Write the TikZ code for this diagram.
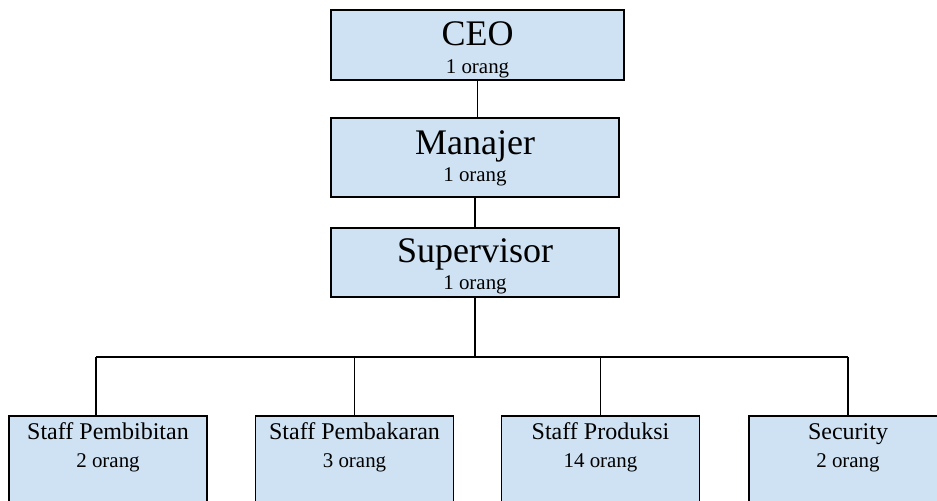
\documentclass[tikz,border=0pt]{standalone}
\usepackage{fontspec}
\setmainfont{Liberation Serif}
\usepackage{tikz}
\definecolor{orgblue}{RGB}{207,226,243}

\tikzset{
  topbox/.style={draw, line width=1.3pt, fill=orgblue, inner sep=0pt, anchor=north,
    minimum width=216pt, font=\fontsize{15.7}{20.5}\selectfont},
  staffbox/.style={draw, line width=1.3pt, fill=orgblue, inner sep=0pt, anchor=north,
    minimum width=148.5pt, text height=18pt, text depth=80pt,
    font=\fontsize{15.7}{20.8}\selectfont},
  orgline/.style={line width=1.3pt}
}

\begin{document}
\begin{tikzpicture}[x=0.75pt, y=-0.75pt]
  \useasboundingbox (0,0) rectangle (937,500);
  \clip (0,0) rectangle (937,500);

  % top of the chart
  \node[topbox, minimum width=219.75pt, text height=27pt, text depth=25.5pt] (ceo) at (477.5,9) {
    \begin{tabular}[t]{@{}c@{}}
      {\fontsize{27}{27}\selectfont CEO}\\
      1 orang
    \end{tabular}
  };
  \node[topbox, text height=27.2pt, text depth=32pt] (man) at (475,117) {
    \begin{tabular}[t]{@{}c@{}}
      {\fontsize{27}{27}\selectfont Manajer}\\
      1 orang
    \end{tabular}
  };
  \node[topbox, text height=26pt, text depth=25.7pt] (sup) at (475,227) {
    \begin{tabular}[t]{@{}c@{}}
      {\fontsize{27}{27}\selectfont Supervisor}\\
      1 orang
    \end{tabular}
  };

  % staff row
  \node[staffbox] (pemb) at (108,415) {
    \begin{tabular}[t]{@{}c@{}}
      {\fontsize{18}{18}\selectfont Staff Pembibitan}\\
      2 orang
    \end{tabular}
  };
  \node[staffbox] (bakar) at (354.5,415) {
    \begin{tabular}[t]{@{}c@{}}
      {\fontsize{18}{18}\selectfont Staff Pembakaran}\\
      3 orang
    \end{tabular}
  };
  \node[staffbox] (prod) at (600.5,415) {
    \begin{tabular}[t]{@{}c@{}}
      {\fontsize{18}{18}\selectfont Staff Produksi}\\
      14 orang
    \end{tabular}
  };
  \node[staffbox] (sec) at (848,415) {
    \begin{tabular}[t]{@{}c@{}}
      {\fontsize{18}{18}\selectfont Security}\\
      2 orang
    \end{tabular}
  };

  % connectors
  \coordinate (busL) at (96,357);
  \coordinate (busR) at (848,357);
  \draw[orgline] (ceo.south) -- (ceo.south |- man.north);
  \draw[orgline] (man.south) -- (sup.north);
  \draw[orgline] (sup.south) -- (sup.south |- busL);
  \draw[orgline] (busL) -- (busR);
  \draw[orgline] (busL) -- (busL |- pemb.north);
  \draw[orgline] (bakar.north) -- (bakar.north |- busL);
  \draw[orgline] (prod.north) -- (prod.north |- busL);
  \draw[orgline] (sec.north) -- (sec.north |- busL);
\end{tikzpicture}
\end{document}
